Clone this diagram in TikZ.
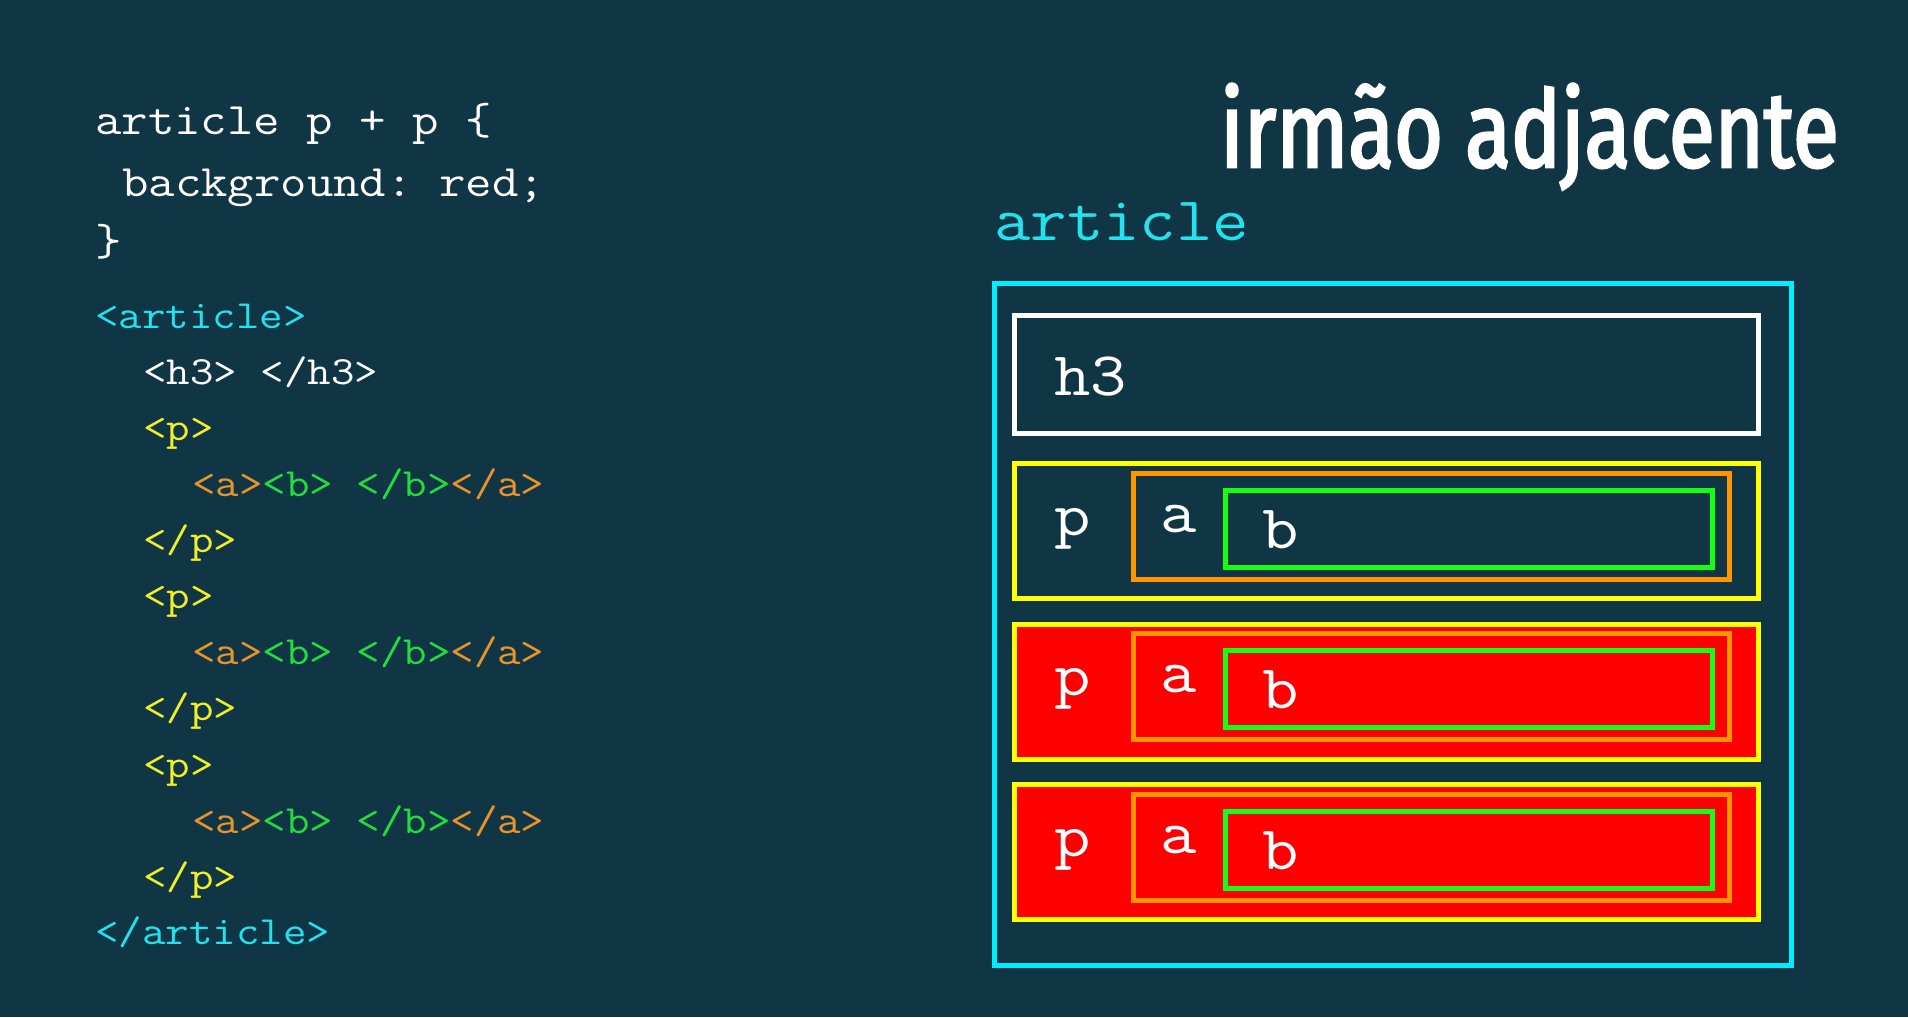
\documentclass[tikz,border=0pt]{standalone}
\usepackage{fontspec}
\setmonofont{Latin Modern Mono}[FakeStretch=1.14]
\newfontfamily\titlefont{Fira Sans}[FakeStretch=0.785,FakeBold=2.4]
\definecolor{bgteal}{RGB}{16,54,70}
\definecolor{cyantxt}{RGB}{34,226,238}
\definecolor{cyanbox}{RGB}{0,238,255}
\definecolor{yeltxt}{RGB}{240,240,40}
\definecolor{yelbox}{RGB}{255,255,0}
\definecolor{orntxt}{RGB}{232,148,42}
\definecolor{ornbox}{RGB}{255,150,0}
\definecolor{grntxt}{RGB}{34,222,60}
\definecolor{grnbox}{RGB}{20,255,20}
\definecolor{redfill}{RGB}{255,0,0}

\begin{document}
\begin{tikzpicture}[x=1pt,y=-1pt,
  txt/.style={anchor=base west,inner sep=0pt,text=white,font=\ttfamily\fontsize{45}{54}\selectfont},
  html/.style={txt,font=\ttfamily\fontsize{40}{48}\selectfont},
  lbl/.style={txt,font=\ttfamily\fontsize{62}{70}\selectfont},
  boxline/.style={line width=5pt}]
\fill[bgteal] (0,0) rectangle (1908,1017);
\node[anchor=base west,inner sep=0pt,text=white,font=\titlefont\fontsize{107}{115}\selectfont] (title) at (1220,167) {irmão adjacente};
\node[txt] (css1) at (95,134) {article p + p \{};
\node[txt] (css2) at (122,196) {background: red;};
\node[txt] (css3) at (95,255) {\}};
\node[html,text=cyantxt] (html1) at (95,328) {<article>};
\node[html] (html2) at (143,384) {<h3> </h3>};
\foreach \i in {0,1,2} {
  \node[html,text=yeltxt] (open\i) at (143,440+168.7*\i) {<p>};
  \node[html,text=orntxt] (inner\i) at (192,496+168.7*\i) {<a>{\color{grntxt}<b> </b>}</a>};
  \node[html,text=yeltxt] (close\i) at (143,552+168.7*\i) {</p>};
}
\node[html,text=cyantxt] (html9) at (95,944) {</article>};
\node[lbl,text=cyantxt] (artlbl) at (994,240) {article};
\draw[boxline,cyanbox] (994,283.5) rectangle (1791,965);
\draw[boxline,white] (1014,315) rectangle (1758,433);
\node[lbl] (h3lbl) at (1054,395.5) {h3};
\foreach \k/\c in {0/bgteal,1/redfill,2/redfill} {
\begin{scope}[yshift=-160.6*\k]
\fill[\c] (1014,463.6) rectangle (1758,598.6);
\draw[boxline,yelbox] (1014,463.6) rectangle (1758,598.6);
\draw[boxline,ornbox] (1133,473.2) rectangle (1729,579.1);
\draw[boxline,grnbox] (1225,490.1) rectangle (1712,567.1);
\node[lbl] (plbl\k) at (1054,535.1) {p};
\node[lbl] (albl\k) at (1160,532.1) {a};
\node[lbl] (blbl\k) at (1262,548.1) {b};
\end{scope}
}
\end{tikzpicture}
\end{document}
